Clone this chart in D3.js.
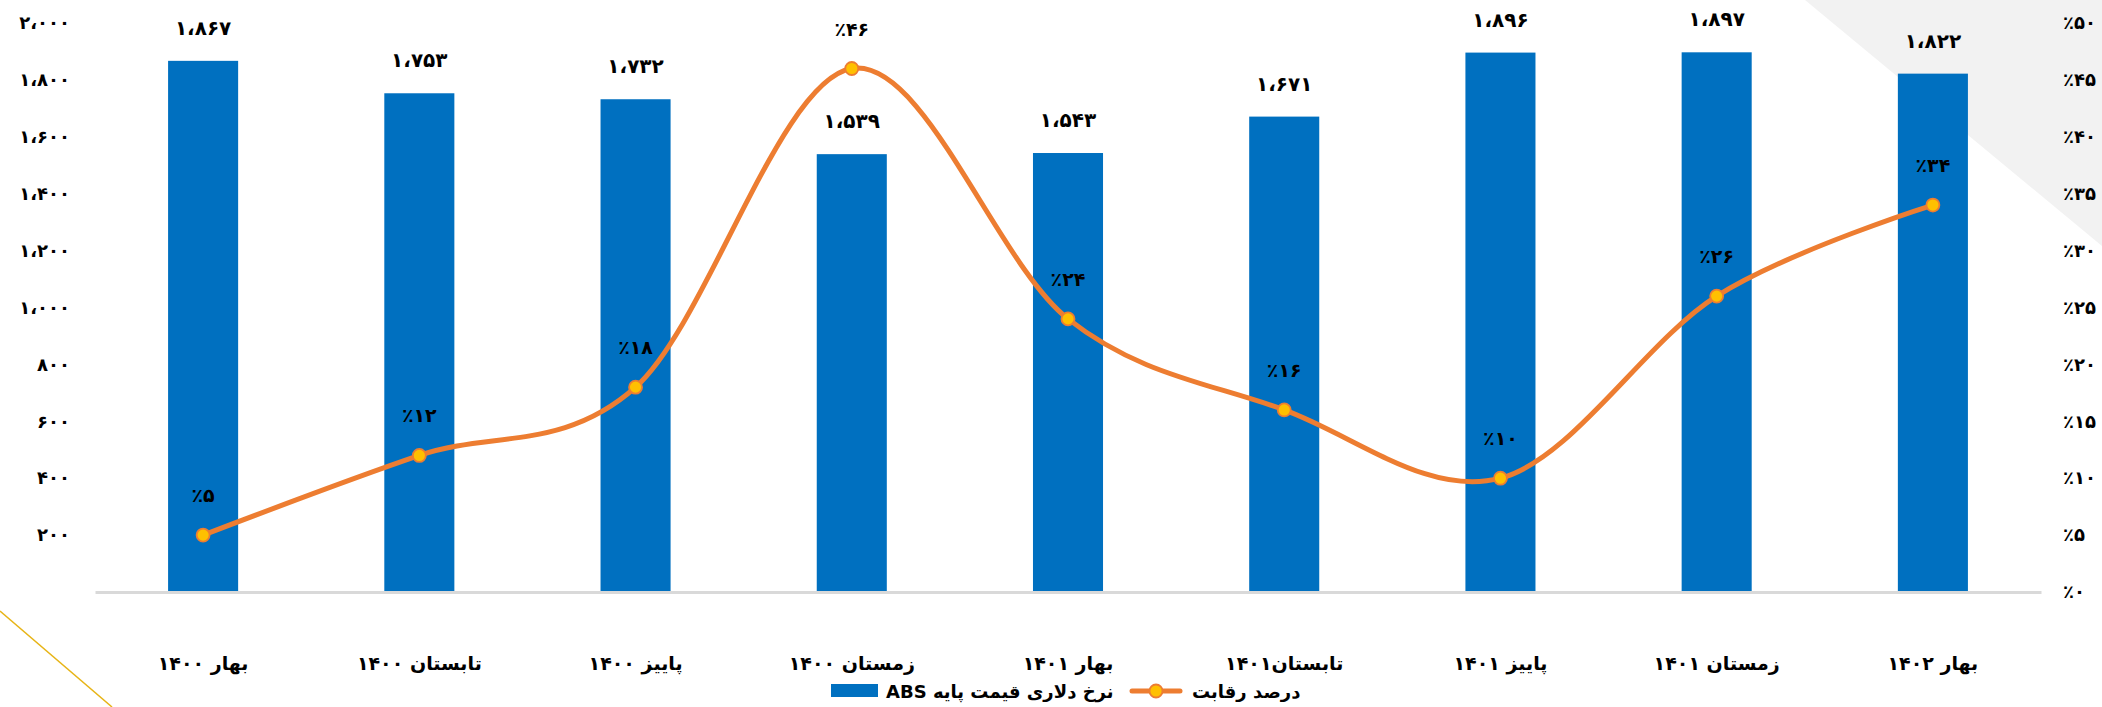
<!DOCTYPE html>
<html lang="fa">
<head>
<meta charset="utf-8">
<script src="https://cdn.jsdelivr.net/npm/d3@7/dist/d3.min.js"></script>
<style>
  html, body { margin: 0; padding: 0; background: #ffffff; }
  svg { display: block; }
  text { font-family: "DejaVu Sans", "Noto Sans", sans-serif; fill: #000; }
</style>
</head>
<body>
<svg id="chart" width="2102" height="707"></svg>
<script>
// Quarters (Persian calendar)
const categories = [
  "بهار ۱۴۰۰", "تابستان ۱۴۰۰", "پاییز ۱۴۰۰", "زمستان ۱۴۰۰",
  "بهار ۱۴۰۱", "تابستان۱۴۰۱", "پاییز ۱۴۰۱", "زمستان ۱۴۰۱", "بهار ۱۴۰۲"
];
// ABS base price in dollars
const basePrice = [1867, 1753, 1732, 1539, 1543, 1671, 1896, 1897, 1822];
// Competition percentage
const competition = [5, 12, 18, 46, 24, 16, 10, 26, 34];
// Axis ticks
const leftTicks = [200, 400, 600, 800, 1000, 1200, 1400, 1600, 1800, 2000];
const rightTicks = [0, 5, 10, 15, 20, 25, 30, 35, 40, 45, 50];
const seriesNames = ["نرخ دلاری قیمت پایه ABS", "درصد رقابت"];

const faDigits = "۰۱۲۳۴۵۶۷۸۹";
const toFa = s => String(s).replace(/[0-9]/g, d => faDigits[+d]);
const fmtThousands = v => toFa(d3.format(",")(v)).replace(/,/g, "،");
const fmtPct = v => "٪" + toFa(v);

const svg = d3.select("#chart");

// decorative background shapes
svg.append("polygon")
  .attr("points", "1805,0 2102,0 2102,246")
  .attr("fill", "#f2f2f2");
svg.append("line")
  .attr("x1", 0).attr("y1", 611).attr("x2", 112).attr("y2", 707)
  .attr("stroke", "#e7b416").attr("stroke-width", 1.5);

const plot = { left: 95, right: 2041, top: 23, bottom: 592 };

const x = d3.scaleBand()
  .domain(categories)
  .range([plot.left, plot.right])
  .paddingInner(0.676)
  .paddingOuter(0.338);

const yL = d3.scaleLinear().domain([0, 2000]).range([plot.bottom, plot.top]);
const yR = d3.scaleLinear().domain([0, 50]).range([plot.bottom, plot.top]);

// left axis labels
const leftAxis = d3.axisLeft(yL).tickValues(leftTicks).tickSize(0).tickPadding(0)
  .tickFormat(fmtThousands);
svg.append("g")
  .attr("transform", "translate(70,0)")
  .call(leftAxis)
  .call(g => g.select(".domain").remove())
  .call(g => g.selectAll("text")
    .attr("font-size", 18).attr("font-weight", "bold")
    .attr("font-family", "DejaVu Sans, sans-serif")
    .style("direction", "ltr").style("unicode-bidi", "bidi-override")
    .attr("fill", "#000"));

// right axis labels
const rightAxis = d3.axisRight(yR).tickValues(rightTicks).tickSize(0).tickPadding(0)
  .tickFormat(fmtPct);
svg.append("g")
  .attr("transform", "translate(2063,0)")
  .call(rightAxis)
  .call(g => g.select(".domain").remove())
  .call(g => g.selectAll("text")
    .attr("font-size", 18).attr("font-weight", "bold")
    .attr("font-family", "DejaVu Sans, sans-serif")
    .style("direction", "ltr").style("unicode-bidi", "bidi-override")
    .attr("fill", "#000"));

// bars
svg.append("g").selectAll("rect")
  .data(basePrice)
  .join("rect")
  .attr("x", (d, i) => x(categories[i]))
  .attr("y", d => yL(d))
  .attr("width", x.bandwidth())
  .attr("height", d => yL(0) - yL(d))
  .attr("fill", "#0070c0");

// category axis
const bottomAxis = d3.axisBottom(x).tickSize(0).tickPadding(0);
svg.append("g")
  .attr("transform", `translate(0,${plot.bottom})`)
  .call(bottomAxis)
  .call(g => g.select(".domain")
    .attr("stroke", "#d9d9d9").attr("stroke-width", 3))
  .call(g => g.selectAll("text")
    .attr("y", 0).attr("dy", 0)
    .attr("transform", "translate(0,78)")
    .attr("font-size", 19).attr("font-weight", "bold")
    .attr("font-family", "DejaVu Sans, sans-serif")
    .style("direction", "rtl")
    .attr("fill", "#000"));

// competition line
const cx = i => x(categories[i]) + x.bandwidth() / 2;
const line = d3.line()
  .x((d, i) => cx(i))
  .y(d => yR(d))
  .curve(d3.curveCardinal.tension(0));
svg.append("path")
  .datum(competition)
  .attr("d", line)
  .attr("fill", "none")
  .attr("stroke", "#ed7d31")
  .attr("stroke-width", 5)
  .attr("stroke-linecap", "round");

svg.append("g").selectAll("circle")
  .data(competition)
  .join("circle")
  .attr("cx", (d, i) => cx(i))
  .attr("cy", d => yR(d))
  .attr("r", 6.5)
  .attr("fill", "#ffc000")
  .attr("stroke", "#ed7d31")
  .attr("stroke-width", 1.8);

// percentage labels
svg.append("g").selectAll("text")
  .data(competition)
  .join("text")
  .attr("x", (d, i) => cx(i))
  .attr("y", d => yR(d) - 33)
  .attr("text-anchor", "middle")
  .attr("font-size", 19).attr("font-weight", "bold")
  .style("direction", "ltr").style("unicode-bidi", "bidi-override")
  .text(d => fmtPct(d));

// bar value labels
svg.append("g").selectAll("text")
  .data(basePrice)
  .join("text")
  .attr("x", (d, i) => cx(i))
  .attr("y", d => yL(d) - 26)
  .attr("text-anchor", "middle")
  .attr("font-size", 20).attr("font-weight", "bold")
  .style("direction", "ltr").style("unicode-bidi", "bidi-override")
  .text(d => fmtThousands(d));

// legend
const legend = svg.append("g");
legend.append("rect")
  .attr("x", 831).attr("y", 684).attr("width", 47).attr("height", 13)
  .attr("fill", "#0070c0");
legend.append("text")
  .attr("x", 886).attr("y", 698)
  .attr("text-anchor", "end")
  .style("direction", "rtl")
  .attr("font-size", 18).attr("font-weight", "bold")
  .text(seriesNames[0]);
legend.append("line")
  .attr("x1", 1132).attr("x2", 1180).attr("y1", 691).attr("y2", 691)
  .attr("stroke", "#ed7d31").attr("stroke-width", 5).attr("stroke-linecap", "round");
legend.append("circle")
  .attr("cx", 1156).attr("cy", 691).attr("r", 6.5)
  .attr("fill", "#ffc000").attr("stroke", "#ed7d31").attr("stroke-width", 1.8);
legend.append("text")
  .attr("x", 1192).attr("y", 698)
  .attr("text-anchor", "end")
  .style("direction", "rtl")
  .attr("font-size", 18).attr("font-weight", "bold")
  .text(seriesNames[1]);
</script>
</body>
</html>
